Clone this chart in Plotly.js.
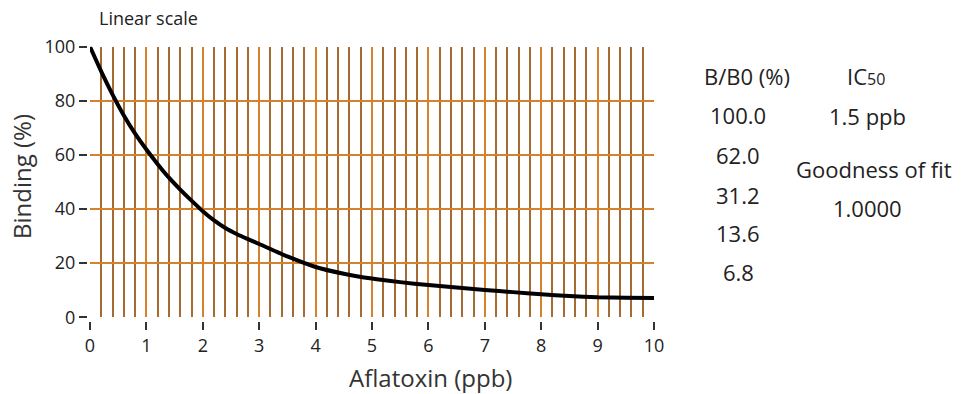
<!DOCTYPE html>
<html>
<head>
<meta charset="utf-8">
<script src="https://cdn.plot.ly/plotly-3.0.1.min.js"></script>
<style>html,body{margin:0;padding:0;background:#fff;}#chart{width:962px;height:394px;}</style>
</head>
<body>
<div id="chart"></div>
<script>
// ---- data ----
const doseX = [0, 0.2, 0.4, 0.6, 0.8, 1.0, 1.2, 1.4, 1.6, 1.8, 2.0, 2.2, 2.4, 2.6, 2.8, 3.0, 3.5, 4.0, 4.5, 5.0, 5.5, 6.0, 6.5, 7.0, 7.5, 8.0, 8.5, 9.0, 9.5, 10.0];
const bindingY = [100, 90.8, 82.3, 74.6, 67.9, 62.0, 56.6, 51.6, 47.2, 43.1, 39.2, 35.8, 33.0, 30.8, 28.9, 27.1, 22.5, 18.6, 16.1, 14.3, 13.0, 11.9, 11.0, 10.1, 9.3, 8.5, 7.9, 7.4, 7.2, 7.1];
const xTickVals = [0, 1, 2, 3, 4, 5, 6, 7, 8, 9, 10];
const yTickVals = [0, 20, 40, 60, 80, 100];
const bb0Values = [100.0, 62.0, 31.2, 13.6, 6.8];
const ic50Text = '1.5 ppb';
const fitValue = 1.0;
const chartTitle = 'Linear scale';
const xTitle = 'Aflatoxin (ppb)';
const yTitle = 'Binding (%)';

// ---- layout helpers (pixels -> paper) ----
const W = 962, H = 394;
const px = v => v / W;
const py = v => 1 - v / H;
const plotL = 90, plotR = 654, plotT = 46.7, plotB = 317.3;

const majorGrid = xTickVals.filter(v => v > xTickVals[0] && v < xTickVals[xTickVals.length - 1]);
const minorGrid = [];
for (let i = 1; i < 50; i++) { if (i % 5 !== 0) minorGrid.push(i / 5); }
const yGrid = yTickVals.filter(v => v > 0 && v < 100);

const FONT = 'Open Sans, Noto Sans, sans-serif';
const TXT = '#222';
const PANEL = 22;

const traces = [
  { x: [], y: [], xaxis: 'x', yaxis: 'y', hoverinfo: 'skip', showlegend: false, type: 'scatter' },
  { x: doseX, y: bindingY, xaxis: 'x2', yaxis: 'y2', type: 'scatter', mode: 'lines',
    line: { color: '#000', width: 4, shape: 'spline', smoothing: 0.6 }, showlegend: false }
];

const annotations = [
  { text: chartTitle, x: px(97), y: py(18), xanchor: 'left', yanchor: 'middle', font: { size: 18, color: TXT } },
  { text: xTitle, x: px(430), y: py(377), xanchor: 'center', yanchor: 'middle', font: { size: 24, color: '#333' } },
  { text: yTitle, x: px(21), y: py(177), xanchor: 'center', yanchor: 'middle', textangle: -90, font: { size: 24, color: '#333' } },
  { text: 'B/B0 (%)', x: px(747), y: py(76), xanchor: 'center', yanchor: 'middle', font: { size: PANEL, color: TXT } },
  { text: 'IC<span style="font-size:16px">50</span>', x: px(866), y: py(76), xanchor: 'center', yanchor: 'middle', font: { size: PANEL, color: TXT } },
  { text: ic50Text, x: px(867), y: py(116), xanchor: 'center', yanchor: 'middle', font: { size: PANEL, color: TXT } },
  { text: 'Goodness of fit', x: px(874), y: py(169), xanchor: 'center', yanchor: 'middle', font: { size: PANEL, color: TXT } },
  { text: fitValue.toFixed(4), x: px(867), y: py(208), xanchor: 'center', yanchor: 'middle', font: { size: PANEL, color: TXT } }
];
const bbY = [115, 155, 195, 233, 272];
bb0Values.forEach((v, i) => {
  annotations.push({ text: v.toFixed(1), x: px(738), y: py(bbY[i]), xanchor: 'center', yanchor: 'middle', font: { size: PANEL, color: TXT } });
});
annotations.forEach(a => { a.xref = 'paper'; a.yref = 'paper'; a.showarrow = false; });

const layout = {
  width: W, height: H,
  margin: { l: 0, r: 0, t: 0, b: 0, pad: 0 },
  paper_bgcolor: '#fff', plot_bgcolor: 'rgba(0,0,0,0)',
  font: { family: FONT, color: TXT },
  showlegend: false,
  xaxis: {
    domain: [px(plotL), px(plotR)], range: [0, 10], anchor: 'y',
    tickmode: 'array', tickvals: majorGrid, showticklabels: false, ticks: '',
    showgrid: true, gridcolor: '#d6812c', gridwidth: 2, zeroline: false, showline: false,
    minor: { tickmode: 'array', tickvals: minorGrid, showgrid: true, gridcolor: '#a66b33', gridwidth: 2, ticks: '' },
    fixedrange: true
  },
  yaxis: {
    domain: [py(plotB), py(plotT)], range: [0, 100], anchor: 'x',
    tickmode: 'array', tickvals: yGrid, showticklabels: false, ticks: '',
    showgrid: true, gridcolor: '#d6812c', gridwidth: 2, zeroline: false, showline: false,
    fixedrange: true
  },
  xaxis2: {
    overlaying: 'x', range: [0, 10], anchor: 'free', position: py(321),
    tickmode: 'array', tickvals: xTickVals, ticks: 'outside', ticklen: 8, tickwidth: 2, tickcolor: '#333',
    showgrid: false, zeroline: false, showline: false,
    tickfont: { size: 18, color: TXT, family: FONT }, fixedrange: true
  },
  yaxis2: {
    overlaying: 'y', range: [0, 100], anchor: 'free', position: px(87),
    tickmode: 'array', tickvals: yTickVals, ticks: 'outside', ticklen: 8, tickwidth: 2, tickcolor: '#333',
    showgrid: false, zeroline: false, showline: false,
    tickfont: { size: 18, color: TXT, family: FONT }, fixedrange: true
  },
  annotations: annotations
};

Plotly.newPlot('chart', traces, layout, { staticPlot: true, displayModeBar: false });
</script>
</body>
</html>
